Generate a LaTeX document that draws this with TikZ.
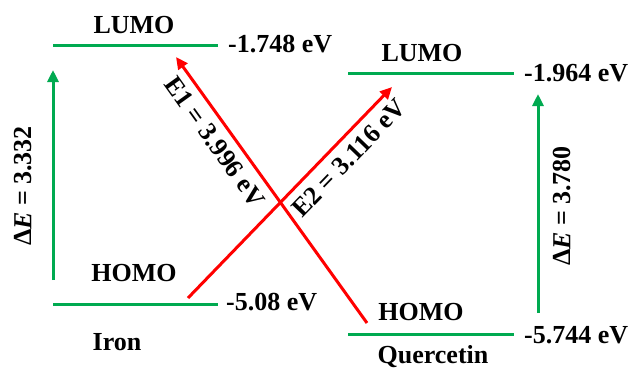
\documentclass[tikz,border=0pt]{standalone}
\usepackage{fontspec}
\setmainfont{Liberation Serif}
\usetikzlibrary{arrows.meta}
\definecolor{lvgreen}{RGB}{0,170,80}
\definecolor{lvred}{RGB}{255,0,0}
\tikzset{
  level/.style={draw=lvgreen,line width=3pt},
  gaparrow/.style={draw=lvgreen,line width=3pt,-{Triangle[length=12pt,width=11pt]}},
  transarrow/.style={draw=lvred,line width=3pt,-{Triangle[length=12pt,width=11pt]}},
  lbl/.style={font=\bfseries\fontsize{26}{28}\selectfont,inner sep=0pt},
}
\begin{document}
\begin{tikzpicture}[x=1pt,y=-1pt]
\path[use as bounding box] (0,0) rectangle (637,370);
% Iron levels
\coordinate (ilL) at (53,45);  \coordinate (ilR) at (218,45);
\coordinate (ihL) at (53,304); \coordinate (ihR) at (218,304);
\draw[level] (ilL) -- (ilR);
\draw[level] (ihL) -- (ihR);
% Quercetin levels
\coordinate (qlL) at (348,73);  \coordinate (qlR) at (514,73);
\coordinate (qhL) at (348,334); \coordinate (qhR) at (514,334);
\draw[level] (qlL) -- (qlR);
\draw[level] (qhL) -- (qhR);
% labels
\node[lbl] (ilumo) at (134,25) {LUMO};
\node[lbl,anchor=west] (ilv) at (228,44) {-1.748 eV};
\node[lbl] (ihomo) at (134,273) {HOMO};
\node[lbl,anchor=west] (ihv) at (226,302) {-5.08 eV};
\node[lbl] (iron) at (117,342) {Iron};
\node[lbl] (qlumo) at (422,53) {LUMO};
\node[lbl,anchor=west] (qlv) at (524,73) {-1.964 eV};
\node[lbl] (qhomo) at (421,312) {HOMO};
\node[lbl,anchor=west] (qhv) at (524,335) {-5.744 eV};
\node[lbl] (querc) at (433,357) {Quercetin};
% gap arrows
\coordinate (ga1s) at (53,280); \coordinate (ga1e) at (53,70);
\draw[gaparrow] (ga1s) -- (ga1e);
\node[lbl,rotate=90] (dE1) at (23,186) {Δ\textit{E} = 3.332};
\coordinate (ga2s) at (538,313); \coordinate (ga2e) at (538,94);
\draw[gaparrow] (ga2s) -- (ga2e);
\node[lbl,rotate=90] (dE2) at (562,206) {Δ\textit{E} = 3.780};
% transition arrows
\coordinate (e1s) at (367,323); \coordinate (e1e) at (176,57);
\draw[transarrow] (e1s) -- (e1e);
\node[lbl,rotate=-54.4] (e1l) at (215,142) {E1 = 3.996 eV};
\coordinate (e2s) at (188,298); \coordinate (e2e) at (392,87);
\draw[transarrow] (e2s) -- (e2e);
\node[lbl,rotate=46] (e2l) at (349,158) {E2 = 3.116 eV};
\end{tikzpicture}
\end{document}
